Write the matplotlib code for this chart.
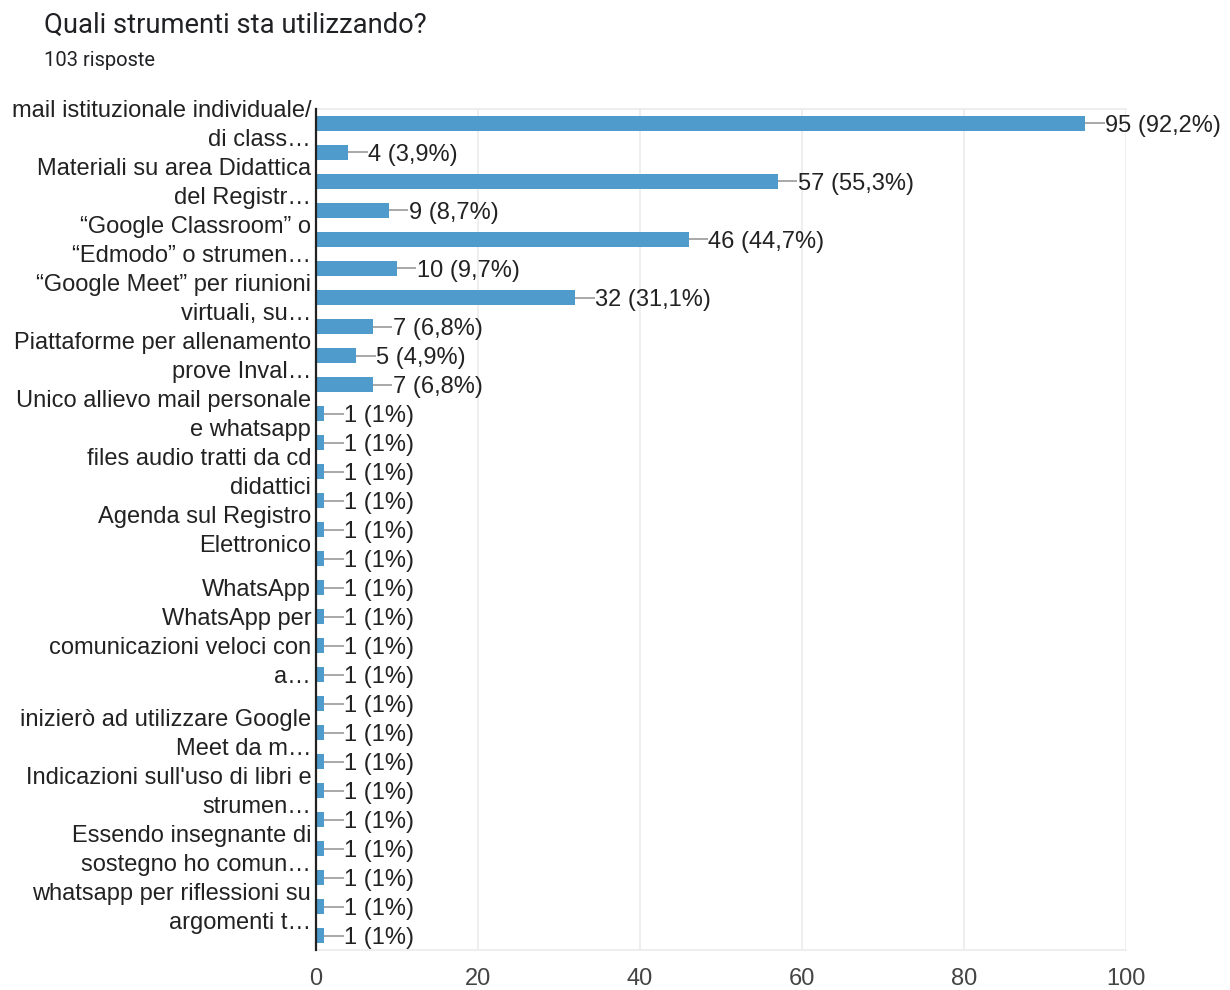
import numpy as np
import matplotlib.pyplot as plt

# dati
conteggi = [95, 4, 57, 9, 46, 10, 32, 7, 5, 7,
            1, 1, 1, 1, 1, 1, 1, 1, 1, 1,
            1, 1, 1, 1, 1, 1, 1, 1, 1]
totale = 103

# etichette (Google ne mostra solo alcune): indice barra -> righe
etichette_idx = [0, 2, 4, 6, 8, 10, 12, 14, 16, 18, 21, 23, 25, 27]
etichette_righe = [
    ["mail istituzionale individuale/", "di class…"],
    ["Materiali su area Didattica", "del Registr…"],
    ["“Google Classroom” o", "“Edmodo” o strumen…"],
    ["“Google Meet” per riunioni", "virtuali, su…"],
    ["Piattaforme per allenamento", "prove Inval…"],
    ["Unico allievo mail personale", "e whatsapp"],
    ["files audio tratti da cd", "didattici"],
    ["Agenda sul Registro", "Elettronico"],
    ["WhatsApp"],
    ["WhatsApp per", "comunicazioni veloci con", "a…"],
    ["inizierò ad utilizzare Google", "Meet da m…"],
    ["Indicazioni sull'uso di libri e", "strumen…"],
    ["Essendo insegnante di", "sostegno ho comun…"],
    ["whatsapp per riflessioni su", "argomenti t…"],
]
x_ticks = [0, 20, 40, 60, 80, 100]

font = ["Liberation Sans", "DejaVu Sans"]
colore_barra = "#4f9bcc"
testo = "#222222"
fs = 17
dy = 0.07  # piccolo spostamento verticale del testo

fig = plt.figure(figsize=(12.3, 9.9), dpi=100)
ax = fig.add_axes([0.2569, 0.0404, 0.9154 - 0.2569, 0.8899 - 0.0404])

y = np.arange(len(conteggi))
ax.barh(y, conteggi, height=0.55, color=colore_barra, zorder=3)

ax.set_xlim(0, 100)
ax.set_ylim(len(conteggi) - 0.5, -0.5)

# etichette valore con trattino
for i, v in enumerate(conteggi):
    p = round(v / totale * 100, 1)
    ps = ("%.1f" % p).rstrip("0").rstrip(".").replace(".", ",")
    ax.plot([v, v + 2.4], [i, i], color="#999999", lw=1.2, zorder=3,
            solid_capstyle="butt")
    ax.text(v + 2.45, i + dy, "%d (%s%%)" % (v, ps), va="center", ha="left",
            fontsize=fs, color=testo, family=font, zorder=4)

# etichette categorie
for b, righe in zip(etichette_idx, etichette_righe):
    n = len(righe)
    for j, r in enumerate(righe):
        ax.text(-0.6, b + (j - (n - 1) / 2) + dy, r, ha="right", va="center",
                fontsize=fs, color=testo, family=font, clip_on=False)

ax.set_yticks([])
ax.set_xticks(x_ticks)
ax.set_xticklabels([str(t) for t in x_ticks], fontsize=fs, color="#444444",
                   family=font)
ax.tick_params(axis="x", length=0, pad=13)
ax.grid(axis="x", color="#ebebeb", lw=1.2, zorder=0)
for s in ["top", "right", "bottom"]:
    ax.spines[s].set_color("#ebebeb")
    ax.spines[s].set_linewidth(1.2)
ax.spines["right"].set_visible(False)
ax.spines["left"].set_color("#222222")
ax.spines["left"].set_linewidth(1.6)
ax.spines["left"].set_zorder(5)

fig.text(44 / 1230, 1 - 25 / 990, "Quali strumenti sta utilizzando?",
         fontsize=19.7, color="#202124", family=["Roboto", "DejaVu Sans"],
         va="center", ha="left")
fig.text(44 / 1230, 1 - 61 / 990, "103 risposte", fontsize=14.5,
         color="#202124", family=["Roboto", "DejaVu Sans"],
         va="center", ha="left")

fig.savefig("out.png", dpi=100, facecolor="white")
